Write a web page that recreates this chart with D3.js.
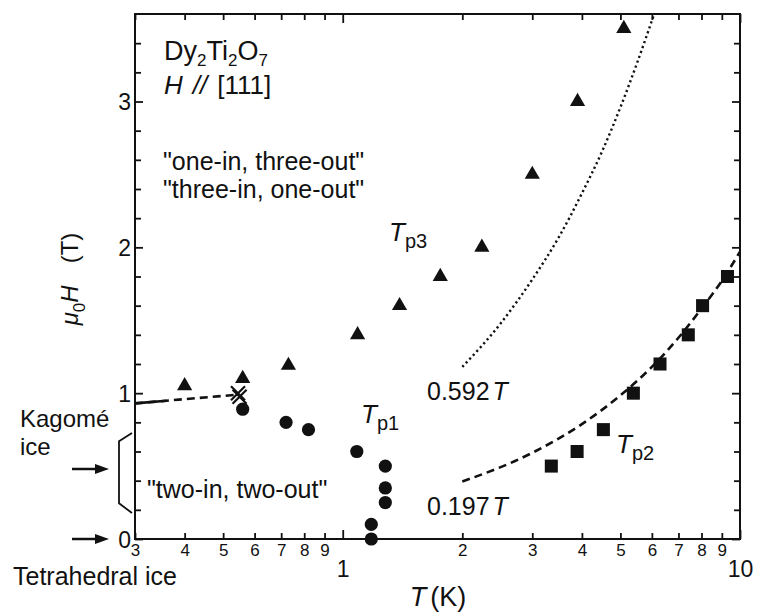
<!DOCTYPE html>
<html>
<head>
<meta charset="utf-8">
<script src="https://cdn.jsdelivr.net/npm/d3@7"></script>
<style>
  body { margin: 0; background: #fff; }
  svg text { font-family: "Liberation Sans", Arial, Helvetica, sans-serif; fill: #111; }
</style>
</head>
<body>
<div class="visData"></div>
<script>
const w = 757;
const h = 614;

// data
const tp3T = [0.40, 0.56, 0.73, 1.09, 1.39, 1.76, 2.24, 3.0, 3.9, 5.1];
const tp3H = [1.05, 1.10, 1.19, 1.40, 1.60, 1.80, 2.00, 2.50, 3.00, 3.50];

const tp1T = [0.56, 0.72, 0.82, 1.085, 1.28, 1.28, 1.28, 1.18, 1.18];
const tp1H = [0.89, 0.80, 0.75, 0.60, 0.50, 0.35, 0.25, 0.10, 0.0];

const tp2T = [3.35, 3.89, 4.53, 5.39, 6.29, 7.41, 8.05, 9.3];
const tp2H = [0.50, 0.60, 0.75, 1.00, 1.20, 1.40, 1.60, 1.80];

const crossT = [0.545, 0.55];
const crossH = [1.0, 0.975];

// kagome boundary line (dashed) and its short solid start
const kagT = [0.3, 0.545];
const kagH = [0.93, 0.99];
const kagSolidT = [0.3, 0.36];
const kagSolidH = [0.93, 0.948];

// 0.592T (dotted) and 0.197T (dashed)
const fit1T = [2, 2.5, 3, 3.5, 4, 4.5, 5, 5.5, 6.08];
const fit1H = [1.18, 1.48, 1.78, 2.07, 2.37, 2.66, 2.96, 3.26, 3.6];
const fit2T = [2, 3, 4, 5, 6, 7, 8, 9, 10];
const fit2H = [0.394, 0.591, 0.788, 0.985, 1.18, 1.38, 1.58, 1.77, 1.97];

// ticks
const xTicks = [0.3, 0.4, 0.5, 0.6, 0.7, 0.8, 0.9, 1, 2, 3, 4, 5, 6, 7, 8, 9, 10];
const xTickLabels = ["3", "4", "5", "6", "7", "8", "9", "1", "2", "3", "4", "5", "6", "7", "8", "9", "10"];
const xMajor = [1, 10];
const yTicks = [0, 0.2, 0.4, 0.6, 0.8, 1, 1.2, 1.4, 1.6, 1.8, 2, 2.2, 2.4, 2.6, 2.8, 3, 3.2, 3.4];
const yMajor = [0, 1, 2, 3];

const pLeft = 135, pRight = 740, pTop = 14, pBottom = 539;

const svg = d3.select(".visData").append("svg")
  .attr("width", w).attr("height", h);

const xScale = d3.scaleLog().domain([0.3, 10]).range([pLeft, pRight]);
const yScale = d3.scaleLinear().domain([0, 3.6]).range([pBottom, pTop]);

const pt = (ts, hs) => ts.map((t, i) => [t, hs[i]]);

//axes
const xAxis = d3.axisBottom(xScale).tickValues(xTicks)
  .tickSizeInner(-6).tickSizeOuter(0)
  .tickFormat((d, i) => xTickLabels[i]);
const gx = svg.append("g").attr("transform", `translate(0,${pBottom})`).call(xAxis);
gx.selectAll(".tick line").attr("y2", d => xMajor.includes(d) ? -9 : -6);
gx.selectAll(".tick text")
  .attr("dy", null)
  .attr("y", d => xMajor.includes(d) ? 38 : 17)
  .style("font-size", d => xMajor.includes(d) ? "23px" : "17px");

const gxTop = svg.append("g").attr("transform", `translate(0,${pTop})`)
  .call(d3.axisTop(xScale).tickValues(xTicks).tickSizeInner(-6).tickSizeOuter(0).tickFormat(""));
gxTop.selectAll(".tick line").attr("y2", d => xMajor.includes(d) ? 9 : 6);

const gy = svg.append("g").attr("transform", `translate(${pLeft},0)`)
  .call(d3.axisLeft(yScale).tickValues(yTicks).tickSizeInner(-6).tickSizeOuter(0)
    .tickPadding(4)
    .tickFormat(d => yMajor.includes(d) ? d3.format("d")(d) : ""));
gy.selectAll(".tick line").attr("x2", d => yMajor.includes(d) ? 8 : 6);
gy.selectAll(".tick text").style("font-size", "23px").attr("dy", "0.36em");

const gyR = svg.append("g").attr("transform", `translate(${pRight},0)`)
  .call(d3.axisRight(yScale).tickValues(yTicks).tickSizeInner(-6).tickSizeOuter(0).tickFormat(""));
gyR.selectAll(".tick line").attr("x2", d => yMajor.includes(d) ? -8 : -6);

svg.selectAll(".domain").remove();
svg.selectAll(".tick line").attr("stroke", "#111").attr("stroke-width", 1.8);

svg.append("rect")
  .attr("x", pLeft).attr("y", pTop)
  .attr("width", pRight - pLeft).attr("height", pBottom - pTop)
  .attr("fill", "none").attr("stroke", "#111").attr("stroke-width", 2);

// lines
const line = d3.line().x(d => xScale(d[0])).y(d => yScale(d[1]));
const curve = d3.line().x(d => xScale(d[0])).y(d => yScale(d[1])).curve(d3.curveMonotoneX);

svg.append("path").attr("d", curve(pt(fit1T, fit1H)))
  .attr("fill", "none").attr("stroke", "#111").attr("stroke-width", 2.4)
  .attr("stroke-dasharray", "2.2,3");

svg.append("path").attr("d", curve(pt(fit2T, fit2H)))
  .attr("fill", "none").attr("stroke", "#111").attr("stroke-width", 2.6)
  .attr("stroke-dasharray", "8,5");

svg.append("path").attr("d", line(pt(kagT, kagH)))
  .attr("fill", "none").attr("stroke", "#111").attr("stroke-width", 2.6)
  .attr("stroke-dasharray", "8,5");
svg.append("path").attr("d", line(pt(kagSolidT, kagSolidH)))
  .attr("fill", "none").attr("stroke", "#111").attr("stroke-width", 2.6);

// markers
svg.selectAll(".tri").data(pt(tp3T, tp3H)).enter().append("path")
  .attr("class", "tri")
  .attr("transform", d => `translate(${xScale(d[0])},${yScale(d[1])})`)
  .attr("d", d3.symbol(d3.symbolTriangle, 100))
  .attr("fill", "#111");

svg.selectAll(".dot").data(pt(tp1T, tp1H)).enter().append("circle")
  .attr("class", "dot")
  .attr("cx", d => xScale(d[0])).attr("cy", d => yScale(d[1]))
  .attr("r", 6.6).attr("fill", "#111");

svg.selectAll(".sq").data(pt(tp2T, tp2H)).enter().append("path")
  .attr("class", "sq")
  .attr("transform", d => `translate(${xScale(d[0])},${yScale(d[1])})`)
  .attr("d", d3.symbol(d3.symbolSquare, 170))
  .attr("fill", "#111");

svg.selectAll(".cross").data(pt(crossT, crossH)).enter().append("path")
  .attr("class", "cross")
  .attr("transform", d => `translate(${xScale(d[0])},${yScale(d[1])})`)
  .attr("d", "M-7,-7L7,7M-7,7L7,-7")
  .attr("stroke", "#111").attr("stroke-width", 2.2).attr("fill", "none");

// text labels
function sub(g, x, y, main, subTxt, size, subSize, italic) {
  const t = g.append("text").attr("x", x).attr("y", y).style("font-size", size + "px");
  t.append("tspan").text(main).style("font-style", italic ? "italic" : "normal");
  t.append("tspan").text(subTxt).attr("dx", 0).attr("dy", 7).style("font-size", subSize + "px");
  return t;
}

const formula = svg.append("text").attr("x", 164).attr("y", 60).style("font-size", "27px");
formula.append("tspan").text("Dy");
formula.append("tspan").text("2").attr("dy", 6).style("font-size", "17px");
formula.append("tspan").text("Ti").attr("dy", -6);
formula.append("tspan").text("2").attr("dy", 6).style("font-size", "17px");
formula.append("tspan").text("O").attr("dy", -6);
formula.append("tspan").text("7").attr("dy", 6).style("font-size", "17px");

const fieldDir = svg.append("text").attr("x", 164).attr("y", 94).style("font-size", "26px");
fieldDir.append("tspan").text("H").style("font-style", "italic");
fieldDir.append("tspan").text("//").attr("dx", 10).style("font-style", "italic");
fieldDir.append("tspan").text("[111]").attr("dx", 10);

svg.append("text").attr("x", 163).attr("y", 170).style("font-size", "25px").text("\"one-in, three-out\"");
svg.append("text").attr("x", 163).attr("y", 198).style("font-size", "25px").text("\"three-in, one-out\"");
svg.append("text").attr("x", 147).attr("y", 498).style("font-size", "25px").text("\"two-in, two-out\"");

sub(svg, 389, 241, "T", "p3", 26, 20, true);
sub(svg, 361, 423, "T", "p1", 26, 20, true);
sub(svg, 616, 453, "T", "p2", 26, 20, true);

const lab1 = svg.append("text").attr("x", 427).attr("y", 400).style("font-size", "25px");
lab1.append("tspan").text("0.592");
lab1.append("tspan").text("T").attr("dx", 3).style("font-style", "italic");
const lab2 = svg.append("text").attr("x", 427).attr("y", 515).style("font-size", "25px");
lab2.append("tspan").text("0.197");
lab2.append("tspan").text("T").attr("dx", 3).style("font-style", "italic");

svg.append("text").attr("x", 20).attr("y", 427).style("font-size", "24px").text("Kagomé");
svg.append("text").attr("x", 20).attr("y", 455).style("font-size", "24px").text("ice");
svg.append("text").attr("x", 13).attr("y", 585).style("font-size", "25px").text("Tetrahedral ice");

// bracket
svg.append("path")
  .attr("d", `M132,${yScale(0.727)}L119,${yScale(0.67)}L119,${yScale(0.245)}L132,${yScale(0.178)}`)
  .attr("fill", "none").attr("stroke", "#111").attr("stroke-width", 1.8);

// arrows
[0.48, 0].forEach(v => {
  const yy = yScale(v);
  svg.append("line").attr("x1", 72).attr("x2", 97).attr("y1", yy).attr("y2", yy)
    .attr("stroke", "#111").attr("stroke-width", 2.5);
  svg.append("path").attr("d", `M95,${yy - 5}L109,${yy}L95,${yy + 5}Z`).attr("fill", "#111");
});

// axis titles
const yTitle = svg.append("text")
  .attr("transform", "translate(78,279) rotate(-90)")
  .attr("text-anchor", "middle")
  .style("font-size", "24px");
yTitle.append("tspan").text("μ").style("font-style", "italic");
yTitle.append("tspan").text("0").attr("dy", 7).style("font-size", "17px");
yTitle.append("tspan").text("H").attr("dy", -7).style("font-style", "italic");
yTitle.append("tspan").text("(T)").attr("dx", 22);

const xTitle = svg.append("text").attr("x", 438).attr("y", 606)
  .attr("text-anchor", "middle").style("font-size", "27px");
xTitle.append("tspan").text("T").style("font-style", "italic");
xTitle.append("tspan").text("(K)").attr("dx", 4);
</script>
</body>
</html>
